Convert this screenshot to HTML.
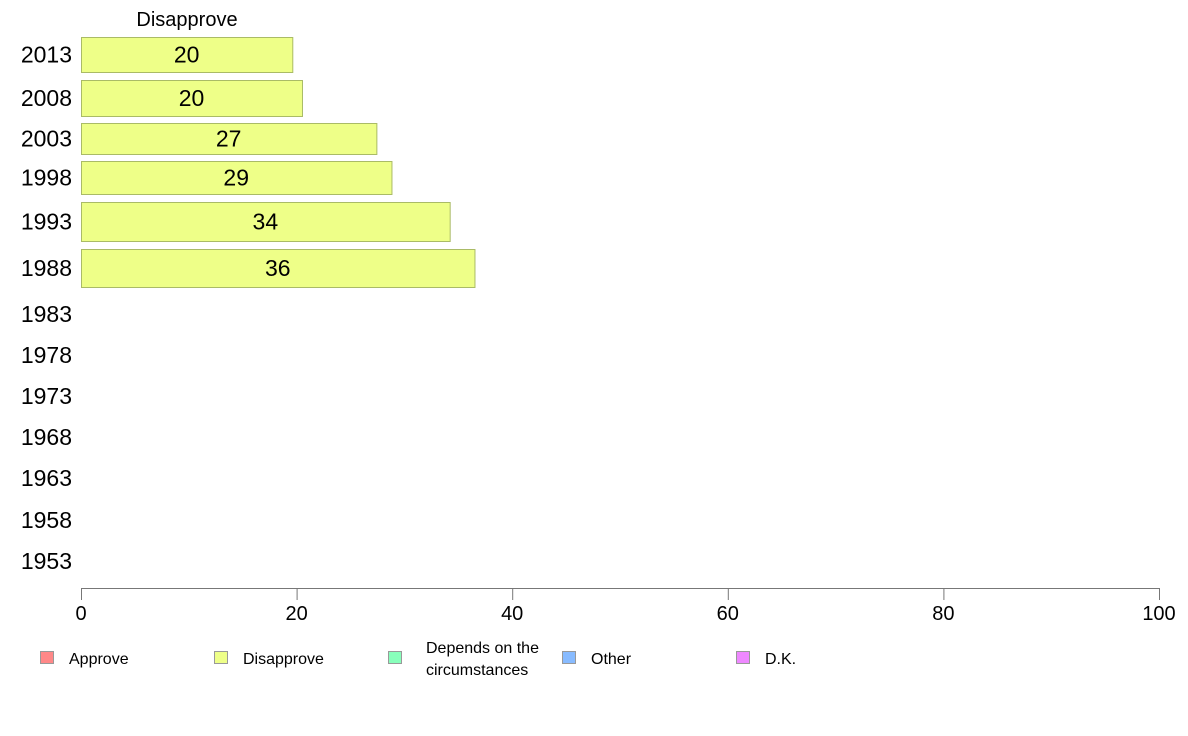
<!DOCTYPE html>
<html><head><meta charset="utf-8"><style>
body{margin:0;background:#fff;font-family:"Liberation Sans",Arial,sans-serif}
svg{display:block}
</style></head><body>
<svg id="chart" width="1188" height="736" xmlns="http://www.w3.org/2000/svg"></svg>
<script>
const years=["2013","2008","2003","1998","1993","1988","1983","1978","1973","1968","1963","1958","1953"];
const disapprove=[19.6,20.5,27.4,28.8,34.2,36.5,null,null,null,null,null,null,null];
const valueLabels=["20","20","27","29","34","36","","","","","","",""];
const xTicks=[0,20,40,60,80,100];
const legendLabels=[["Approve"],["Disapprove"],["Depends on the","circumstances"],["Other"],["D.K."]];
const legendColors=["#ff8888","#eeff88","#88ffbb","#88bbff","#ee88ff"];
// layout (row bands in pixels)
const rowTop=[37,80,123,161,202,249,295,336,377,418,459,501,542];
const rowBot=[72,116,154,194,241,287,333,374,415,456,497,539,580];
const svg=document.getElementById('chart');
const NS="http://www.w3.org/2000/svg";
const x0=81,x1=1159;
const xs=v=>x0+(x1-x0)*v/100;
function mk(t,a,p){const e=document.createElementNS(NS,t);for(const k in a)e.setAttribute(k,a[k]);(p||svg).appendChild(e);return e;}
const title=mk('text',{x:187,y:26,'font-size':20,'text-anchor':'middle',fill:'#000'});
title.textContent="Disapprove";


years.forEach((y,i)=>{
  const cy=(rowTop[i]+rowBot[i])/2;
  const t=mk('text',{x:72,y:cy+8,'font-size':23,'text-anchor':'end',fill:'#000'});
  t.textContent=y;
  
  
  const v=disapprove[i];
  if(v!=null){
    const r=mk('rect',{x:xs(0)+0.5,y:rowTop[i]+0.5,width:xs(v)-xs(0),height:rowBot[i]-rowTop[i],fill:'#eeff88',stroke:'#aabb66','stroke-width':1});
    
    
    const l=mk('text',{x:(xs(0)+xs(v))/2,y:cy+8,'font-size':23,'text-anchor':'middle',fill:'#000'});
    l.textContent=valueLabels[i];
    
    
  }
});
const ax=mk('line',{x1:x0,y1:588.5,x2:x1,y2:588.5,stroke:'#777','stroke-width':1});


xTicks.forEach(v=>{
  const tk=mk('line',{x1:xs(v)+0.5,y1:588,x2:xs(v)+0.5,y2:600,stroke:'#777','stroke-width':1});
  
  
  const tl=mk('text',{x:xs(v),y:620,'font-size':20,'text-anchor':'middle',fill:'#000'});
  tl.textContent=v;
  
  
});
legendLabels.forEach((lab,i)=>{
  const lx=40+i*174;
  const g=mk('g',{});
  
  
  mk('rect',{x:lx+0.5,y:651.5,width:13,height:12,fill:legendColors[i],stroke:'#999','stroke-width':1},g);
  if(lab.length===1){
    const t=mk('text',{x:lx+29,y:664,'font-size':16,fill:'#000'},g);t.textContent=lab[0];
  }else{
    const t=mk('text',{x:lx+38,y:653,'font-size':16,fill:'#000'},g);t.textContent=lab[0];
    const t2=mk('text',{x:lx+38,y:675,'font-size':16,fill:'#000'},g);t2.textContent=lab[1];
  }
});
</script>
</body></html>
